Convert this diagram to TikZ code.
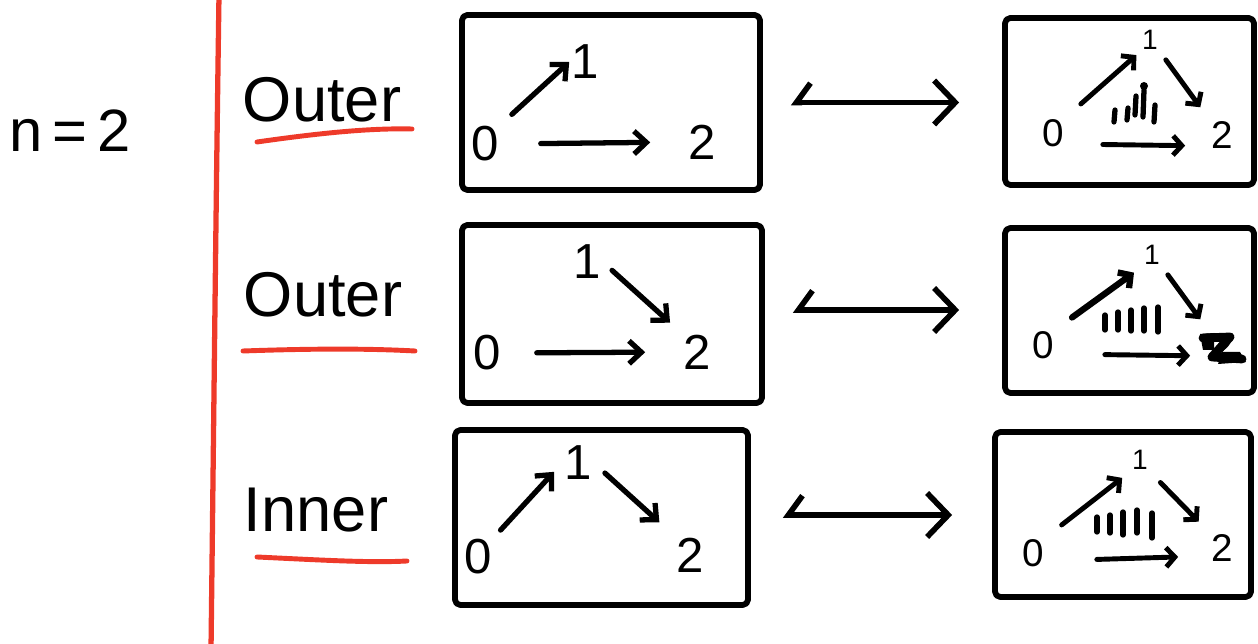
\documentclass[tikz,border=0pt]{standalone}
\usepackage{fontspec}
\setmainfont{Liberation Sans}
\usetikzlibrary{arrows.meta,fit}
\definecolor{penred}{HTML}{EE3A2A}
\begin{document}
\begin{tikzpicture}[x=0.02cm,y=-0.02cm,
  ink/.style={line width=3pt,line cap=round,line join=round},
  box/.style={draw,line width=3.3pt,line join=round,inner sep=0pt,rounded corners=3pt},
  underl/.style={draw=penred,line width=2.8pt,line cap=round},
  lab/.style={font=\fontsize{36}{40}\selectfont,inner sep=0pt},
  big/.style={font=\fontsize{28}{30}\selectfont,inner sep=1pt},
  sm/.style={font=\fontsize{22}{24}\selectfont,inner sep=1pt},
  tiny/.style={font=\fontsize{16}{18}\selectfont,inner sep=1pt},
  arr/.style={ink,-{Straight Barb[length=7pt,width=13pt]}},
  sarr/.style={ink,line width=2.8pt,-{Straight Barb[length=5pt,width=11pt]}},
  dbl/.style={ink,line width=3.2pt,{Straight Barb[harpoon,swap,length=8pt,width=22pt]}-{Straight Barb[length=12pt,width=25pt]}},
]
\path[use as bounding box] (0,0) rectangle (1258,644);

% left labels
\node[font=\fontsize{34}{38}\selectfont,inner sep=0pt] (n2) at (70,131) {n\,=\,2};
\draw[draw=penred,line width=3pt] (219,-5) .. controls (216,200) and (214,400) .. (211,650);

\node[lab] (o1) at (322,100) {Outer};
\node[lab] (o2) at (323,295) {Outer};
\node[lab] (in) at (316,510) {Inner};
\draw[underl] (257,142) .. controls (320,133) and (370,128) .. (412,129);
\draw[underl] (243,351) .. controls (300,349) and (360,348) .. (415,351);
\draw[underl] (257,557) .. controls (320,560) and (370,563) .. (407,561);

% boxes
\node[box,fit={(462,15)(760,190)}] (M1) {};
\node[box,fit={(462,225)(762,403)}] (M2) {};
\node[box,fit={(455,430)(748,605)}] (M3) {};
\node[box,fit={(1005,18)(1254,185)}] (R1) {};
\node[box,fit={(1005,228)(1254,393)}] (R2) {};
\node[box,fit={(995,432)(1251,597)}] (R3) {};

% double arrows
\draw[dbl,shorten <=0.56cm,shorten >=0.86cm] (M1.east) -- (M1.east -| R1.west);
\draw[dbl,shorten <=0.56cm,shorten >=0.86cm] ([yshift=0.08cm]M2.east) -- ([yshift=0.08cm]M2.east -| R2.west);
\draw[dbl,shorten <=0.64cm,shorten >=0.8cm] ([yshift=0.05cm]M3.east) -- ([yshift=0.05cm]M3.east -| R3.west);

% middle box 1
\node[big] (a0) at (485,144) {0};
\node[big] (a1) at (585,62) {1};
\node[big] (a2) at (702,142) {2};
\draw[arr,shorten <=0.3cm] (a0.north east) -- (a1.west);
\draw[arr,shorten <=0.8cm,shorten >=0.72cm] (a0.east) -- (a2.west);

% middle box 2
\node[big] (b0) at (487,353) {0};
\node[big] (b1) at (587,262) {1};
\node[big] (b2) at (697,352) {2};
\draw[arr,shorten <=0.25cm,shorten >=0.3cm] (b1.east) -- (b2.north west);
\draw[arr,shorten <=0.68cm,shorten >=0.72cm] (b0.east) -- (b2.west);

% middle box 3
\node[big] (c0) at (478,557) {0};
\node[big] (c1) at (578,463) {1};
\node[big] (c2) at (690,555) {2};
\draw[arr,shorten <=0.2cm,shorten >=0.24cm] (c0.north east) -- (c1.west);
\draw[arr,shorten <=0.3cm,shorten >=0.4cm] (c1.east) -- (c2.north west);

% right box 1
\node[sm] (d0) at (1053,133) {0};
\node[tiny] (d1) at (1150,40) {1};
\node[sm] (d2) at (1222,135) {2};
\draw[sarr,shorten <=0.4cm,shorten >=0.1cm] (d0.north east) -- (d1.south west);
\draw[sarr,shorten <=0.2cm,shorten >=0.3cm] (d1.south east) -- (d2.north west);
\draw[sarr,shorten <=0.74cm,shorten >=0.48cm] ([yshift=-0.22cm]d0.east) -- ([yshift=-0.22cm]d2.west);
\foreach \x/\a/\b in {1115/110/122,1128/108/120,1136/96/115,1144/90/117,1155/105/122}
  \draw[ink] (\x,\a) -- (\x-1,\b);
\fill (1144,86) circle (4);

% right box 2
\node[sm] (e0) at (1043,345) {0};
\node[tiny] (e1) at (1152,255) {1};
\node[sm,font=\fontsize{22}{24}\selectfont\bfseries] (e2) at (1222,347) {2};
\draw[sarr,line width=3.6pt,shorten <=0.4cm,shorten >=0.2cm] (e0.north east) -- (e1.south west);
\draw[sarr,shorten <=0.2cm,shorten >=0.3cm] (e1.south east) -- (e2.north west);
\draw[sarr,shorten <=0.98cm,shorten >=0.38cm] ([yshift=-0.18cm]e0.east) -- ([yshift=-0.18cm]e2.west);
\foreach \x/\a/\b in {1105/315/330,1118/312/330,1131/310/331,1144/308/331,1158/307/332}
  \draw[ink] (\x,\a) -- (\x,\b);
\draw[line width=5pt,line cap=round,line join=round] (1203,338) -- (1230,337) -- (1212,357) -- (1242,359);
\fill (1200,334) -- (1214,333) -- (1214,350) -- (1203,350) -- cycle;
\fill (1222,352) -- (1240,352) -- (1246,362) -- (1218,364) -- cycle;

% right box 3
\node[sm] (f0) at (1033,553) {0};
\node[tiny] (f1) at (1140,460) {1};
\node[sm] (f2) at (1222,548) {2};
\draw[sarr,shorten <=0.4cm,shorten >=0.2cm] (f0.north east) -- (f1.south west);
\draw[sarr,shorten <=0.3cm,shorten >=0.3cm] (f1.south east) -- (f2.north west);
\draw[sarr,shorten <=1.02cm,shorten >=0.62cm] ([yshift=-0.16cm]f0.east) -- ([yshift=-0.16cm]f2.west);
\foreach \x/\a/\b in {1097/517/532,1110/515/533,1123/512/535,1137/510/533,1152/513/538}
  \draw[ink] (\x,\a) -- (\x,\b);
\end{tikzpicture}
\end{document}
